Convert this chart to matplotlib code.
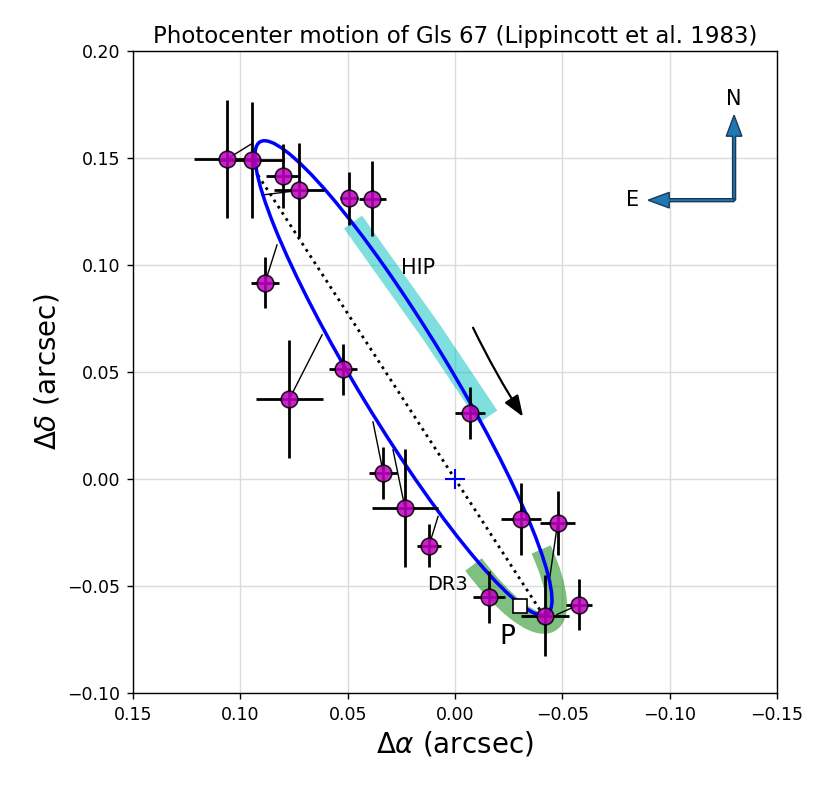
import numpy as np
import matplotlib
matplotlib.use("Agg")
import matplotlib.pyplot as plt
from matplotlib.patches import Ellipse, Arc

# measured positions (arcsec)
ra = [0.1062, 0.0946, 0.0800, 0.0725, 0.0494, 0.0385, 0.0885, 0.0520, 0.0772,
      -0.0070, 0.0334, 0.0233, 0.0121, -0.0307, -0.0478, -0.0160, -0.0419, -0.0579]
dec = [0.1495, 0.1490, 0.1417, 0.1349, 0.1311, 0.1310, 0.0917, 0.0513, 0.0373,
       0.0308, 0.0028, -0.0135, -0.0311, -0.0187, -0.0205, -0.0551, -0.0638, -0.0587]
ra_err = [0.0155, 0.0150, 0.0080, 0.0117, 0.0040, 0.0062, 0.0065, 0.0065, 0.0155,
          0.0070, 0.0065, 0.0152, 0.0055, 0.0095, 0.0080, 0.0075, 0.0110, 0.0060]
dec_err = [0.0275, 0.0270, 0.0150, 0.0220, 0.0125, 0.0175, 0.0120, 0.0120, 0.0275,
           0.0120, 0.0120, 0.0275, 0.0100, 0.0170, 0.0150, 0.0120, 0.0190, 0.0120]

# predicted positions on the orbit for each epoch
model_ra = [0.0950, 0.0946, 0.0800, 0.0899, 0.0494, 0.0385, 0.0829, 0.0520, 0.0619,
            -0.0070, 0.0382, 0.0289, 0.0079, -0.0307, -0.0442, -0.0160, -0.0419, -0.0475]
model_dec = [0.1565, 0.1490, 0.1417, 0.1327, 0.1311, 0.1310, 0.1094, 0.0513, 0.0674,
             0.0308, 0.0267, 0.0137, -0.0175, -0.0187, -0.0456, -0.0551, -0.0638, -0.0633]

# apparent orbit: centre, semi-axes, position angle of major axis
orb_c = (0.0240, 0.0472)
orb_a = 0.1290
orb_b = 0.0210
orb_ang = 58.8

# periastron / apastron line
node_ra = [0.0918, -0.0401]
node_dec = [0.1420, -0.0620]

hip_ra = [0.0475, 0.0107, -0.0154]
hip_dec = [0.1201, 0.0683, 0.0291]

# DR3 arc around periastron
dr3_c = (-0.0143, -0.0195)
dr3_a = 0.0559
dr3_b = 0.0163
dr3_ang = 57.5

dr3_pos = (-0.0303, -0.0594)

fig = plt.figure(figsize=(8.26, 7.85), dpi=100)
ax = fig.add_axes([0.1610, 0.1172, 0.7797, 0.8178])

ax.grid(True, color='0.86', lw=1.0)
ax.set_axisbelow(True)

ax.plot(hip_ra, hip_dec, '-', color='c', alpha=0.5, lw=16, solid_capstyle='butt')
ax.add_patch(Arc(dr3_c, 2*dr3_a, 2*dr3_b, angle=dr3_ang, theta1=150, theta2=228,
                 color='g', alpha=0.5, lw=15))

ax.add_patch(Ellipse(orb_c, 2*orb_a, 2*orb_b, angle=orb_ang, fill=False, ec='b', lw=2.5, zorder=3))

ax.plot(node_ra, node_dec, 'k:', lw=2)
ax.plot(0, 0, 'b+', ms=14, mew=1.5, zorder=5)

for i in range(len(ra)):
    ax.plot([ra[i], model_ra[i]], [dec[i], model_dec[i]], 'k-', lw=1)

ax.errorbar(ra, dec, xerr=ra_err, yerr=dec_err, fmt='none', ecolor='k', elinewidth=2, zorder=4)
ax.plot(ra, dec, 'o', mfc='m', mec='k', ms=12, mew=1.2, alpha=0.85, zorder=6)
ax.plot(*dr3_pos, 's', mfc='w', mec='k', ms=10, mew=1.2, zorder=7)

ax.annotate('', xy=(-0.0317, 0.0291), xytext=(-0.0084, 0.0707),
            arrowprops=dict(arrowstyle='-|>,head_length=0.8,head_width=0.3', color='k',
                            lw=1.6, mutation_scale=16, shrinkA=0, shrinkB=0,
                            connectionstyle='arc3,rad=0.03'))

ax.text(0.0172, 0.0987, 'HIP', fontsize=15, ha='center', va='center')
ax.text(-0.0060, -0.0493, 'DR3', fontsize=14, ha='right', va='center')
ax.text(-0.0242, -0.0737, 'P', fontsize=19, ha='center', va='center')

# compass
ax.arrow(-0.130, 0.1303, 0, 0.0397, width=0.0014, head_width=0.0073, head_length=0.0098,
         length_includes_head=True, fc='C0', ec='#1b3a57', lw=1)
ax.arrow(-0.130, 0.1303, 0.0400, 0, width=0.0014, head_width=0.0073, head_length=0.0098,
         length_includes_head=True, fc='C0', ec='#1b3a57', lw=1)
ax.text(-0.130, 0.1775, 'N', fontsize=15, ha='center', va='center')
ax.text(-0.0829, 0.1303, 'E', fontsize=15, ha='center', va='center')

ax.set_xlim(0.15, -0.15)
ax.set_ylim(-0.10, 0.20)
ax.set_xticks([0.15, 0.10, 0.05, 0.00, -0.05, -0.10, -0.15])
ax.set_yticks([-0.10, -0.05, 0.00, 0.05, 0.10, 0.15, 0.20])
ax.tick_params(labelsize=12.5, length=4.4, width=1, pad=5)
for s in ax.spines.values():
    s.set_linewidth(1.0)
ax.set_xlabel(r'$\Delta\alpha$ (arcsec)', fontsize=20)
ax.set_ylabel(r'$\Delta\delta$ (arcsec)', fontsize=20)
ax.set_title('Photocenter motion of Gls 67 (Lippincott et al. 1983)', fontsize=16.5)

plt.savefig('out.png', dpi=100)
